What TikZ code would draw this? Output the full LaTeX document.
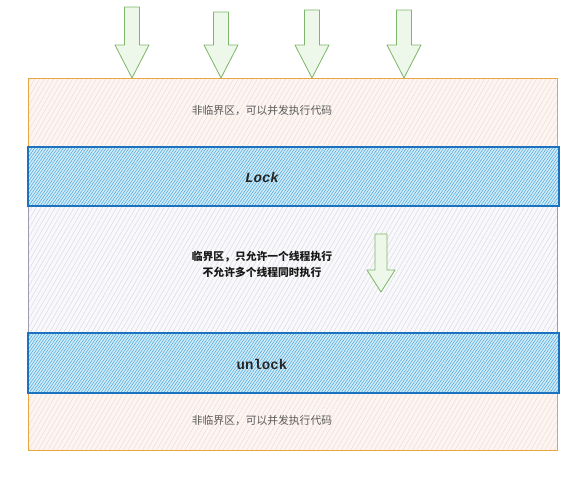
\documentclass[tikz,border=0pt]{standalone}
\usepackage{fontspec}
\newfontfamily\cjk{Noto Sans CJK SC}
\newfontfamily\codefont{Liberation Mono}
\usepackage{tikz}
\usetikzlibrary{calc, patterns.meta, positioning}

\definecolor{zoneedge}{HTML}{E9A53E}
\definecolor{zonefill}{HTML}{FCF5F2}
\definecolor{zoneline}{HTML}{EFD6CE}
\definecolor{critedge}{HTML}{9C9CAE}
\definecolor{critfill}{HTML}{F9F9FB}
\definecolor{critline}{HTML}{D6D6E2}
\definecolor{lockedge}{HTML}{1C72BE}
\definecolor{lockfill}{HTML}{D2ECF8}
\definecolor{lockline}{HTML}{4AA6DE}
\definecolor{arrowedge}{HTML}{7DB56A}
\definecolor{arrowfill}{HTML}{EEF8EA}

\tikzset{
	zone/.style={draw=zoneedge, line width=0.8pt, preaction={fill=zonefill},
		pattern={Lines[angle=60, distance=3.5pt, line width=0.3pt]}, pattern color=zoneline},
	critzone/.style={draw=critedge, line width=0.6pt, preaction={fill=critfill},
		pattern={Lines[angle=60, distance=3.5pt, line width=0.35pt]}, pattern color=critline},
	lockband/.style={draw=lockedge, line width=0.9pt, preaction={fill=lockfill},
		pattern={Lines[angle=55, distance=2pt, line width=0.45pt]}, pattern color=lockline},
	fatarrow/.style={draw=arrowedge, line width=0.7pt, fill=arrowfill, line join=round},
	note/.style={font=\cjk\fontsize{9.2}{13.6}\selectfont, text=black!65},
	rule/.style={font=\cjk\bfseries\fontsize{9.2}{13.6}\selectfont, text=black!90, align=center},
	keyword/.style={font=\codefont\bfseries\fontsize{12}{14}\selectfont, text=black!85}
}

\begin{document}
\begin{tikzpicture}[x=0.03cm, y=-0.03cm]
	\def\l{28};
	\def\r{557};
	\useasboundingbox (0,0) rectangle (587,500);
	
	\coordinate (topA) at (\l,78);
	\coordinate (topB) at (\r,147);
	\coordinate (midA) at (\l,206);
	\coordinate (midB) at (\r,333);
	\coordinate (botA) at (\l,393);
	\coordinate (botB) at (\r,450);
	
	\begin{scope}
		\draw[zone] (topA) rectangle (topB);
		\draw[critzone] (midA) rectangle (midB);
		\draw[zone] (botA) rectangle (botB);
		
		\draw[lockband] (\l,147) rectangle (559,206);
		\draw[lockband] (\l,333) rectangle (559,393);
	\end{scope}
	
	\begin{scope}
		\foreach \x/\t in {132/7, 221/12, 312/10, 404/10}
			\draw[fatarrow] ({\x-7.5},\t) -- ({\x+7.5},\t) -- ({\x+7.5},45) -- ({\x+17},45)
				-- (\x,78) -- ({\x-17},45) -- ({\x-7.5},45) -- cycle;
		
		\draw[fatarrow] (375,234) -- (387,234) -- (387,270) -- (395,270)
			-- (381,292) -- (367,270) -- (375,270) -- cycle;
	\end{scope}
	
	\node[note] (outside1) at (262,111) {非临界区，可以并发执行代码};
	\node[keyword] (lock) at (262,177) {\itshape Lock};
	\node[rule] (inside) at (262,264) {临界区，只允许一个线程执行\\不允许多个线程同时执行};
	\node[keyword] (unlock) at (262,364) {unlock};
	\node[note] (outside2) at (262,421) {非临界区，可以并发执行代码};
\end{tikzpicture}
\end{document}
